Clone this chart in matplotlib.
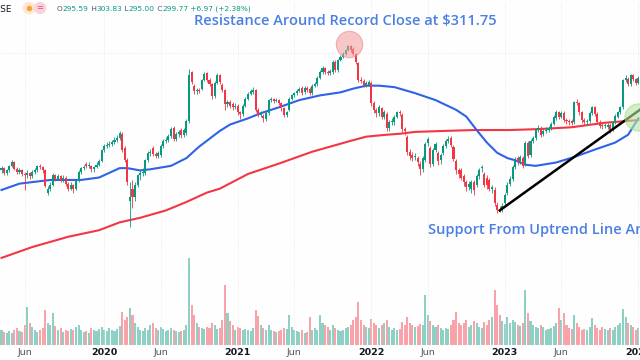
import pandas as pd
import numpy as np
import matplotlib
matplotlib.use('Agg')
import matplotlib.pyplot as plt
from matplotlib.patches import Circle

# weekly bars (log price scale)
dates = pd.date_range('2019-03-25', periods=249, freq='W-MON')

opens = [158,160,156,158,162,165,159,157,158,155,
         154,156,153,157,158,162,161,158,140,143,
         146,154,151,153,150,152,147,143,146,143,
         149,157,160,164,162,162,159,161,163,166,
         177,181,182,183,185,187,189,193,179,167,
         134,143,137,146,154,156,156,167,174,179,
         173,171,172,181,186,187,191,199,188,193,
         197,192,194,207,270,251,244,245,247,259,
         269,259,253,237,255,266,252,245,227,229,
         227,223,225,217,215,225,234,240,242,245,
         220,214,213,209,216,232,233,231,232,228,
         222,214,220,234,238,241,244,248,242,248,
         247,241,251,253,262,270,276,270,269,270,
         286,273,289,294,298,305,311,307,298,284,
         259,258,252,252,255,228,220,216,222,212,
         215,199,206,206,212,217,214,198,190,175,
         172,170,169,164,159,167,184,179,164,177,
         174,167,174,181,186,189,180,166,158,158,
         153,148,144,143,148,146,153,160,155,152,
         150,143,142,131,128,127,132,140,147,151,
         161,169,166,169,164,184,172,186,189,197,
         199,193,196,197,199,204,210,217,212,216,
         208,207,207,206,229,228,217,208,206,207,
         216,223,215,206,203,201,200,203,198,206,
         212,217,223,259,260,253,266,260,255]

closes = [160,156,158,162,165,159,157,158,155,154,
          156,153,157,158,162,161,158,145,143,146,
          154,151,153,150,152,147,143,146,143,149,
          157,160,161,162,163,159,161,163,166,177,
          181,182,183,185,187,189,194,177,167,148,
          137,137,146,154,156,157,167,174,175,173,
          171,174,181,186,187,191,198,188,193,195,
          192,197,207,266,256,244,245,244,259,267,
          259,253,237,255,266,256,245,227,229,225,
          223,225,217,215,225,234,240,244,245,220,
          214,215,210,216,232,233,231,232,228,222,
          214,217,234,238,241,244,247,241,248,245,
          241,251,253,262,270,276,270,269,272,286,
          273,289,294,298,305,311.75,305,298,286,259,
          258,252,255,256,228,220,216,223,212,217,
          199,206,207,212,217,216,198,196,175,171,
          169,171,165,159,169,183,188,164,177,183,
          166,172,181,186,188,182,168,158,155,152,
          148,144,147,148,142,153,158,161,146,146,
          143,144,132,127,127,130,138,146,151,161,
          168,165,170,162,184,171,186,189,197,199,
          192,196,197,199,204,212,217,212,216,208,
          207,206,205,229,228,217,208,206,207,216,
          223,215,206,201,201,203,203,197,205,213,
          217,223,259,262,253,266,260,255,262]

highs = [162,161,159,163,167,166,161,160,159,157,
         158,157,158,160,163,164,162,159,145,148,
         156,155,155,154,154,153,148,148,147,150,
         158,161,163,165,165,163,162,165,168,178,
         183,185,186,187,190,192,196,195,181,169,
         148,150,148,155,158,160,168,176,178,181,
         175,176,183,188,190,193,200,201,195,197,
         199,199,209,275,272,253,248,248,261,270,
         271,262,255,257,269,268,255,247,232,232,
         229,228,227,219,227,236,242,246,249,247,
         222,218,215,218,234,236,235,235,234,230,
         224,219,236,240,243,246,249,250,250,250,
         249,253,256,264,273,279,278,273,275,288,
         288,291,296,301,307,314,313,310,300,286,
         263,261,258,259,257,231,222,226,224,220,
         217,208,210,214,219,220,216,200,192,178,
         175,174,171,166,171,185,190,181,179,185,
         176,174,183,188,191,191,182,168,160,160,
         155,150,149,150,150,155,160,163,157,154,
         152,146,144,133,130,132,140,148,153,163,
         170,171,172,171,186,186,188,191,199,202,
         201,198,200,201,206,214,220,219,218,218,
         210,209,209,231,233,230,219,210,209,218,
         225,225,217,208,205,205,205,205,207,215,
         219,225,261,266,263,268,268,262,265]

lows = [156,154,154,157,161,158,155,155,153,142,
        152,151,152,155,157,159,156,144,138,141,
        145,149,150,148,148,145,141,142,140,142,
        148,155,158,160,160,157,157,160,162,165,
        175,179,180,181,183,185,187,175,165,146,
        116,129,134,144,150,153,154,165,171,171,
        169,169,170,179,184,185,189,186,186,190,
        189,190,192,205,253,240,240,241,245,257,
        256,250,234,235,253,253,242,220,223,222,
        220,221,214,209,213,223,232,238,240,217,
        211,211,206,207,214,229,228,229,226,219,
        211,212,218,232,236,239,242,239,240,243,
        238,239,249,251,260,268,267,266,266,268,
        270,271,287,292,296,303,302,296,283,256,
        254,249,249,250,225,216,212,213,209,209,
        196,196,203,203,210,213,195,192,172,167,
        166,167,162,154,157,165,181,161,162,175,
        163,164,172,179,184,180,166,155,152,150,
        145,141,142,140,138,144,151,157,144,143,
        141,140,130,125,126,126,130,138,145,149,
        159,163,164,160,162,169,170,184,187,195,
        190,191,194,195,197,202,208,209,210,206,
        204,203,202,204,226,214,205,203,203,205,
        214,213,204,199,198,199,198,194,196,204,
        210,215,221,256,250,251,257,252,253]

# weekly volume, millions of shares
volume = [30,26,24,28,25,30,34,28,26,40,
          76,44,36,30,26,30,34,70,44,40,
          64,38,30,34,26,30,28,32,30,36,
          40,30,26,28,24,34,30,28,32,36,
          30,28,34,30,28,32,38,66,50,56,
          74,60,44,36,30,28,34,30,40,44,
          34,30,36,32,28,30,34,30,28,26,
          28,30,40,174,80,60,44,36,34,32,
          36,34,44,40,32,34,50,120,64,48,
          40,30,36,34,30,32,30,28,34,70,
          58,40,34,30,40,30,28,26,28,30,
          34,32,60,36,30,28,26,30,24,26,
          56,30,34,30,60,44,40,36,30,40,
          34,30,28,30,34,36,40,50,56,86,
          50,40,36,34,52,44,40,34,40,44,
          50,36,30,34,30,32,46,40,56,44,
          40,36,38,42,40,100,60,48,40,36,
          40,34,30,34,32,40,50,66,44,40,
          44,50,36,40,48,44,36,34,46,40,
          50,56,110,80,60,48,42,56,44,50,
          46,40,38,44,110,64,48,40,36,34,
          40,36,30,32,34,38,44,74,50,64,
          40,34,32,60,44,36,30,32,30,36,
          54,40,34,30,36,32,30,34,30,36,
          40,44,72,56,44,40,36,30,34]

# moving averages read at some weeks
ma_blue_idx = [0,7,19,31,38,46,49,54,58,66,72,77,85,89,96,101,108,116,124,132,137,
               142,147,153,161,169,177,181,185,189,193,197,200,204,208,216,223,231,239,244,248]
ma_blue = [142,147,150,150,152,160,160,158,159,162,169,180,196,203,210,216,223,232,238,242,247,
           251,251,249,241,232,220,212,197,184,174,169,167,163,162,165,170,177,184,192,210]
ma_red_idx = [0,12,26,38,46,54,64,72,80,85,96,108,121,135,142,150,155,161,172,184,198,209,222,235,248]
ma_red = [98,104,110,114,119,122,127,133,140,143,155,164,175,185,190,192,193,195,196,197,197,198,200,205,208]

trend_dates = ['2022-12-12', '2023-12-29']
trend_prices = [127, 220]

tick_idx = [9, 40, 62, 92, 114, 144, 166, 196, 218, 248]
tick_labels = ['Jun', '2020', 'Jun', '2021', 'Jun', '2022', 'Jun', '2023', 'Jun', '2024']
grid_prices = [300]

up_col = '#089981'
dn_col = '#f23645'

o = np.array(opens, float)
c = np.array(closes, float)
h = np.array(highs, float)
l = np.array(lows, float)
up = c >= o
cols = np.where(up, up_col, dn_col)

fig = plt.figure(figsize=(6.4, 3.6), dpi=100)
fig.patch.set_facecolor('#fefefe')

xl = (dates[0] - pd.Timedelta(days=4.1), dates[0] + pd.Timedelta(days=1740.4))

vax = fig.add_axes([0, 0, 1, 1])
vax.set_xlim(*xl)
vax.set_ylim(-30, 690)
vax.axis('off')
vax.bar(dates, volume, width=5.6, color=cols, alpha=0.45, linewidth=0)

ax = fig.add_axes([0, 0, 1, 1])
ax.patch.set_visible(False)
ax.set_yscale('log')
ax.set_xlim(*xl)
ax.set_ylim(56.12, 400.7)
ax.axis('off')

for i in tick_idx:
    ax.axvline(dates[i], color='#dfe2e8', lw=0.6, ls=(0, (1, 2)), zorder=0)
for p in grid_prices:
    ax.axhline(p, color='#dfe2e8', lw=0.6, ls=(0, (1, 2)), zorder=0)

ax.plot(dates[ma_red_idx], ma_red, color='#f23645', lw=1.5, zorder=2)
ax.plot(dates[ma_blue_idx], ma_blue, color='#2f62e6', lw=1.5, zorder=2)

ax.vlines(dates, l, h, colors=cols, lw=0.6, zorder=3)
body = np.maximum(np.abs(c - o), 0.4)
ax.bar(dates, body, bottom=np.minimum(o, c), width=5.6, color=cols, linewidth=0, zorder=4)

ax.plot(pd.to_datetime(trend_dates), trend_prices, color='black', lw=1.8, zorder=5)

pk = int(np.argmax(c))
ax.scatter([dates[pk] + pd.Timedelta(days=3)], [h[pk] * 1.005], s=360, color='#f39a9a',
           alpha=0.55, edgecolors='#ee7f7f', linewidths=0.8, zorder=6)
ax.scatter([dates[-1]], [211], s=380, color='#b6e8a0', alpha=0.6,
           edgecolors='#9ad97f', linewidths=0.8, zorder=6)

tr = ax.get_xaxis_transform()
for i, lab in zip(tick_idx, tick_labels):
    yr = lab != 'Jun'
    ax.text(dates[i], 0.022, lab, transform=tr, ha='center', va='center', fontsize=6.8,
            color='#131722' if yr else '#50535e', fontweight='bold' if yr else 'normal')

blue_txt = '#4a7fe3'
fig.text(345 / 640, 1 - 21 / 360, 'Resistance Around Record Close at $311.75',
         ha='center', va='center', fontsize=10.5, color=blue_txt,
         family='Open Sans', fontweight='semibold')
fig.text(428 / 640, 1 - 230 / 360, 'Support From Uptrend Line Around',
         ha='left', va='center', fontsize=10.5, color=blue_txt,
         family='Open Sans', fontweight='semibold')

# header strip
ov = fig.add_axes([0, 0, 1, 1])
ov.patch.set_visible(False)
ov.set_xlim(0, 640)
ov.set_ylim(360, 0)
ov.axis('off')
ov.text(12, 9, 'NYSE', ha='right', va='center', fontsize=6.5, color='#131722')
ov.add_patch(Circle((29, 8), 5.5, color='#fde6cf'))
ov.plot(29, 8, marker='o', ms=3, color='#f6a33d')
ov.add_patch(Circle((40, 8), 5.5, color='#fad3dc'))
ov.text(40, 8, '=', ha='center', va='center', fontsize=6, color='#e5457a')

parts = [('O', '#50535e'), ('295.59', up_col), (' H', '#50535e'), ('303.83', up_col),
         (' L', '#50535e'), ('295.00', up_col), (' C', '#50535e'), ('299.77', up_col),
         (' +6.97 (+2.38%)', up_col)]
prev = ov.text(57, 9, parts[0][0], ha='left', va='center', fontsize=5.3, color=parts[0][1])
for s, col in parts[1:]:
    prev = ov.annotate(s, xy=(1, 0), xycoords=prev, ha='left', va='bottom',
                       fontsize=5.3, color=col)

fig.savefig('out.png', dpi=100, facecolor=fig.get_facecolor())
